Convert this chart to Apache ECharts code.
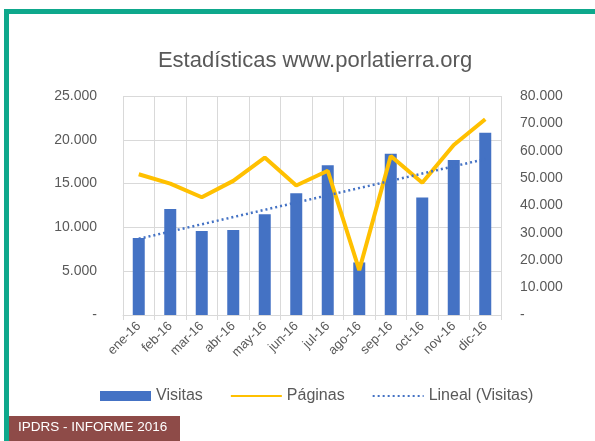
<!DOCTYPE html>
<html>
<head>
<meta charset="utf-8">
<script src="https://cdn.jsdelivr.net/npm/echarts@6/dist/echarts.min.js"></script>
<style>
  html, body { margin: 0; padding: 0; background: #fff; }
  #main { width: 595px; height: 441px; }
</style>
</head>
<body>
<div id="main"></div>
<script>
var meses = ['ene-16', 'feb-16', 'mar-16', 'abr-16', 'may-16', 'jun-16',
             'jul-16', 'ago-16', 'sep-16', 'oct-16', 'nov-16', 'dic-16'];
var visitas = [8800, 12100, 9600, 9700, 11500, 13900, 17100, 6000, 18400, 13400, 17700, 20800];
var paginas = [51400, 48000, 43000, 49000, 57500, 47300, 52700, 16400, 58100, 48300, 62100, 71500];
// tendencia lineal (inicio y fin)
var tendencia = [['ene-16', 8700], ['dic-16', 17800]];

var gris = '#595959';
var fuente = 'Liberation Sans';

function miles(v) {
    if (v === 0) return '-';
    return String(v).replace(/\B(?=(\d{3})+(?!\d))/g, '.');
}

var myChart = echarts.init(document.getElementById('main'));
var option = {
    animation: false,
    backgroundColor: '#fff',
    textStyle: { fontFamily: fuente },
    title: {
        text: 'Estadísticas www.porlatierra.org',
        left: 310,
        textAlign: 'center',
        top: 45,
        textStyle: { fontSize: 22, fontWeight: 'normal', color: gris, fontFamily: fuente }
    },
    grid: { left: 123, right: 94, top: 96, bottom: 126 },
    legend: {
        left: 100,
        top: 388,
        padding: 0,
        itemGap: 27,
        itemWidth: 51,
        itemHeight: 10,
        textStyle: { fontSize: 16, color: gris },
        data: [
            { name: 'Visitas', icon: 'rect' },
            { name: 'Páginas', itemStyle: { opacity: 0 } },
            { name: 'Lineal (Visitas)', itemStyle: { opacity: 0 } }
        ]
    },
    xAxis: {
        type: 'category',
        data: meses,
        axisLine: { lineStyle: { color: '#d9d9d9' } },
        axisTick: { show: true, length: 5, lineStyle: { color: '#d9d9d9' } },
        splitLine: { show: true, lineStyle: { color: '#d9d9d9' } },
        axisLabel: { rotate: 45, fontSize: 13, color: gris, margin: 9, interval: 0 }
    },
    yAxis: [{
        type: 'value',
        min: 0, max: 25000, interval: 5000,
        axisLine: { show: false },
        axisTick: { show: false },
        splitLine: { lineStyle: { color: '#d9d9d9' } },
        axisLabel: { fontSize: 14, color: gris, margin: 26, formatter: miles }
    }, {
        type: 'value',
        min: 0, max: 80000, interval: 10000,
        axisLine: { show: false },
        axisTick: { show: false },
        splitLine: { show: false },
        axisLabel: { fontSize: 14, color: gris, margin: 19, formatter: miles }
    }],
    series: [{
        name: 'Visitas',
        type: 'bar',
        data: visitas,
        barWidth: 12,
        itemStyle: { color: '#4472C4' }
    }, {
        name: 'Páginas',
        type: 'line',
        yAxisIndex: 1,
        data: paginas,
        symbol: 'none',
        lineStyle: { color: '#FFC000', width: 4 },
        itemStyle: { color: '#FFC000' },
        z: 3
    }, {
        name: 'Lineal (Visitas)',
        type: 'line',
        data: tendencia,
        symbol: 'none',
        lineStyle: { color: '#4472C4', width: 2.5, type: [2, 3] },
        itemStyle: { color: '#4472C4' },
        z: 4
    }],
    graphic: [
        { type: 'rect', shape: { x: 4, y: 9, width: 591, height: 5 }, style: { fill: '#0EA88C' } },
        { type: 'rect', shape: { x: 4, y: 9, width: 5, height: 432 }, style: { fill: '#0EA88C' } },
        { type: 'rect', shape: { x: 9, y: 416, width: 171, height: 25 }, style: { fill: '#8E4B48' } },
        {
            type: 'text', left: 18, top: 420,
            style: { text: 'IPDRS - INFORME 2016', fill: '#fff', font: '13.5px "Liberation Sans"' }
        }
    ]
};
myChart.setOption(option);
</script>
</body>
</html>
